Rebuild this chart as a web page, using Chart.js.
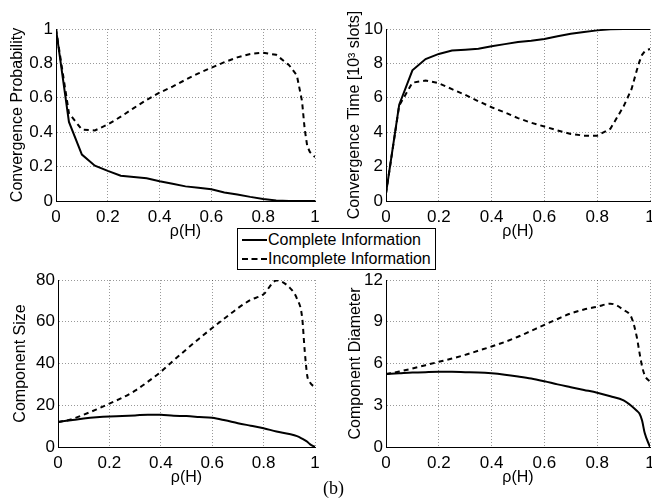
<!DOCTYPE html>
<html>
<head>
<meta charset="utf-8">
<script src="https://cdn.jsdelivr.net/npm/chart.js@4"></script>
<style>
  html, body { margin: 0; padding: 0; background: #fff; overflow: hidden; }
  #page { position: relative; width: 652px; height: 501px; overflow: hidden; }
  .plot { position: absolute; }
  #legend {
    position: absolute; left: 237px; top: 228px; width: 197px; height: 40px;
    border: 1px solid #000; background: #fff;
    font: 16px "Liberation Sans", Arial, sans-serif; color: #000;
  }
  #legend .row { position: absolute; left: 0; height: 19px; line-height: 19px; white-space: nowrap; }
  #legend .swatch { position: absolute; left: 4px; width: 25px; top: 9px; border-top: 2px solid #000; }
  #legend .swatch.dash { border-top: 2px dashed #000; }
  #legend .txt { position: absolute; left: 30px; top: 0; }
  #caption {
    position: absolute; left: 323px; top: 478px;
    font: 18px "Liberation Serif", "Times New Roman", serif; color: #000;
  }
</style>
</head>
<body>
<div id="page">
  <canvas id="probChart" class="plot" style="left:0;top:0;width:326px;height:245px"></canvas>
  <canvas id="timeChart" class="plot" style="left:330px;top:0;width:335px;height:245px"></canvas>
  <canvas id="sizeChart" class="plot" style="left:0;top:250px;width:326px;height:245px"></canvas>
  <canvas id="diamChart" class="plot" style="left:330px;top:250px;width:335px;height:245px"></canvas>
  <div id="legend">
    <div class="row" style="top:1px"><span class="swatch"></span><span class="txt">Complete Information</span></div>
    <div class="row" style="top:20px"><span class="swatch dash"></span><span class="txt">Incomplete Information</span></div>
  </div>
  <div id="caption">(b)</div>
</div>
<script>
// rho(H) sample points shared by all four panels
const rho = [0, 0.05, 0.1, 0.15, 0.2, 0.25, 0.3, 0.35, 0.4, 0.45, 0.5, 0.55, 0.6, 0.65, 0.7, 0.75, 0.8, 0.85, 0.9, 0.93, 0.95, 0.96, 0.97, 0.98, 1];
const rhoTicks = [0, 0.2, 0.4, 0.6, 0.8, 1];

const probComplete   = [1, 0.46, 0.27, 0.205, 0.175, 0.147, 0.14, 0.132, 0.115, 0.1, 0.085, 0.077, 0.068, 0.05, 0.038, 0.024, 0.012, 0.003, 0, 0, 0, 0, 0, 0, 0];
const probIncomplete = [1, 0.51, 0.415, 0.41, 0.445, 0.49, 0.54, 0.588, 0.63, 0.665, 0.705, 0.742, 0.775, 0.807, 0.835, 0.855, 0.862, 0.85, 0.79, 0.73, 0.58, 0.42, 0.32, 0.285, 0.255];

const timeComplete   = [0.45, 5.6, 7.6, 8.25, 8.55, 8.75, 8.8, 8.85, 9.0, 9.12, 9.24, 9.32, 9.42, 9.58, 9.72, 9.83, 9.92, 9.98, 10, 10, 10, 10, 10, 10, 10];
const timeIncomplete = [0.45, 5.55, 6.88, 7.0, 6.85, 6.5, 6.17, 5.8, 5.45, 5.15, 4.82, 4.55, 4.33, 4.1, 3.9, 3.8, 3.8, 4.2, 5.5, 6.5, 7.6, 8.1, 8.5, 8.7, 8.85];

const sizeComplete   = [12, 12.8, 13.6, 14.2, 14.6, 14.8, 15.1, 15.5, 15.4, 15.0, 14.8, 14.4, 14.0, 12.8, 11.4, 10.2, 9.0, 7.4, 6.2, 5.2, 4.0, 3.3, 2.5, 1.4, 0];
const sizeIncomplete = [12, 13.2, 15.5, 18, 20.8, 23.6, 27, 31.3, 36, 41.5, 46.8, 52, 57, 61.8, 66.5, 70.5, 73.2, 79.8, 76.5, 71, 62, 46, 34, 31, 28.5];

const diamComplete   = [5.25, 5.3, 5.35, 5.38, 5.4, 5.4, 5.38, 5.36, 5.3, 5.2, 5.07, 4.92, 4.72, 4.5, 4.3, 4.1, 3.9, 3.65, 3.35, 2.95, 2.6, 2.4, 1.9, 1.0, 0];
const diamIncomplete = [5.25, 5.42, 5.64, 5.88, 6.12, 6.36, 6.62, 6.92, 7.22, 7.55, 7.92, 8.35, 8.78, 9.2, 9.6, 9.88, 10.08, 10.3, 9.85, 9.3, 7.9, 6.8, 5.8, 5.15, 4.68];

Chart.defaults.font.family = '"Liberation Sans", Arial, sans-serif';
Chart.defaults.font.size = 16;
Chart.defaults.color = '#000';

function fmt(v) {
  return String(Math.round(v * 10) / 10);
}

function toPoints(ys) {
  return rho.map((x, i) => ({ x: x, y: ys[i] }));
}

function makeChart(id, o) {
  const mode = o.smooth ? 'monotone' : 'default';
  return new Chart(document.getElementById(id), {
    type: 'line',
    data: {
      datasets: [
        { label: 'Complete Information', data: toPoints(o.complete), borderColor: '#000', borderWidth: 2, pointRadius: 0, tension: 0, cubicInterpolationMode: mode },
        { label: 'Incomplete Information', data: toPoints(o.incomplete), borderColor: '#000', borderWidth: 2, borderDash: [5, 4], pointRadius: 0, tension: 0, cubicInterpolationMode: mode }
      ]
    },
    options: {
      responsive: false,
      animation: false,
      layout: { padding: o.padding },
      plugins: { legend: { display: false }, tooltip: { enabled: false } },
      scales: {
        x: {
          type: 'linear', min: 0, max: 1,
          afterBuildTicks: (s) => { s.ticks = rhoTicks.map(v => ({ value: v })); },
          afterFit: (s) => { s.height = o.xHeight; },
          ticks: { padding: 6, maxRotation: 0, callback: fmt, font: { size: 17 } },
          grid: { color: 'rgba(0,0,0,0.4)', drawTicks: false, lineWidth: 1 },
          border: { color: '#000', width: 1, dash: [1, 2] },
          title: { display: true, text: 'ρ(H)', padding: { top: 0, bottom: o.xTitlePad } }
        },
        y: {
          min: 0, max: o.max,
          ticks: { stepSize: o.step, padding: 3, callback: fmt, font: { size: 17 } },
          afterFit: (s) => { s.width = o.yWidth; },
          grid: { color: 'rgba(0,0,0,0.4)', drawTicks: false, lineWidth: 1 },
          border: { color: '#000', width: 1, dash: [1, 2] },
          title: { display: true, text: o.title, padding: { top: o.yTitlePad, bottom: 0 } }
        }
      }
    }
  });
}

makeChart('probChart', {
  complete: probComplete, incomplete: probIncomplete, max: 1, step: 0.2, smooth: false,
  title: 'Convergence Probability', padding: { top: 29, right: 11, left: 0, bottom: 0 },
  yWidth: 56, xHeight: 44, xTitlePad: 4, yTitlePad: 8
});
makeChart('timeChart', {
  complete: timeComplete, incomplete: timeIncomplete, max: 10, step: 2, smooth: false,
  title: 'Convergence Time [10³ slots]', padding: { top: 29, right: 15, left: 0, bottom: 0 },
  yWidth: 56, xHeight: 44, xTitlePad: 4, yTitlePad: 15
});
makeChart('sizeChart', {
  complete: sizeComplete, incomplete: sizeIncomplete, max: 80, step: 20, smooth: true,
  title: 'Component Size', padding: { top: 30, right: 11, left: 0, bottom: 0 },
  yWidth: 58, xHeight: 48, xTitlePad: 8, yTitlePad: 11
});
makeChart('diamChart', {
  complete: diamComplete, incomplete: diamIncomplete, max: 12, step: 3, smooth: true,
  title: 'Component Diameter', padding: { top: 30, right: 15, left: 0, bottom: 0 },
  yWidth: 56, xHeight: 48, xTitlePad: 8, yTitlePad: 16
});
</script>
</body>
</html>
